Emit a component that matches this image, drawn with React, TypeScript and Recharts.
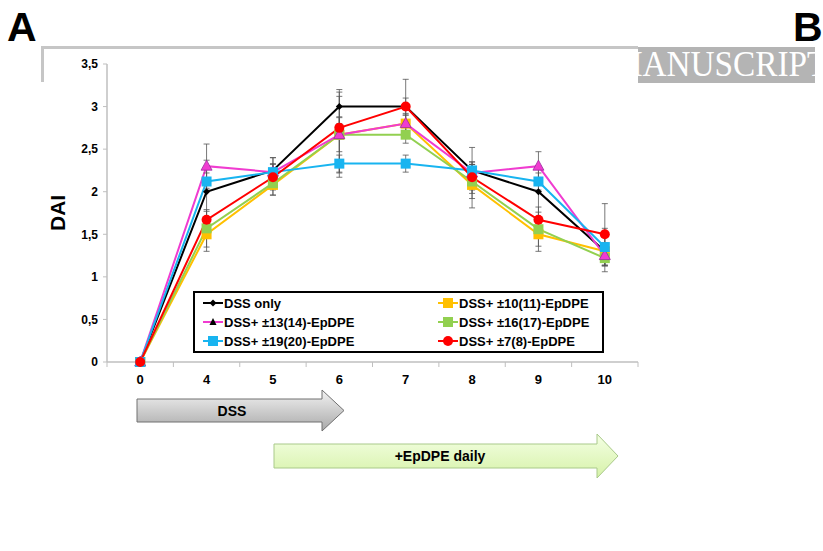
import React from "react";
import {
  LineChart, Line, XAxis, YAxis, ErrorBar,
} from "recharts";

const days = ["0", "4", "5", "6", "7", "8", "9", "10"];
const dssOnly = [0, 2.0, 2.25, 3.0, 3.0, 2.25, 2.0, 1.3];
const dssOnlyErr = [0, 0.37, 0.15, 0.2, 0.1, 0.27, 0.3, 0.1];
const ep1314 = [0, 2.3, 2.23, 2.67, 2.8, 2.22, 2.3, 1.25];
const ep1314Err = [0, 0.26, 0.17, 0.2, 0.1, 0.1, 0.17, 0.12];
const ep1920 = [0, 2.12, 2.23, 2.33, 2.33, 2.25, 2.12, 1.35];
const ep1920Err = [0, 0.1, 0.1, 0.1, 0.1, 0.1, 0.1, 0.22];
const ep1011 = [0, 1.5, 2.08, 2.67, 2.8, 2.08, 1.5, 1.3];
const ep1011Err = [0, 0.2, 0.12, 0.45, 0.12, 0.27, 0.2, 0.17];
const ep1617 = [0, 1.57, 2.1, 2.67, 2.67, 2.12, 1.56, 1.22];
const ep1617Err = [0, 0.22, 0.14, 0.5, 0.1, 0.2, 0.2, 0.16];
const ep78 = [0, 1.67, 2.17, 2.75, 3.0, 2.17, 1.67, 1.5];
const ep78Err = [0, 0.1, 0.15, 0.13, 0.32, 0.15, 0.15, 0.36];
const yTicks = [0, 0.5, 1, 1.5, 2, 2.5, 3, 3.5];

const data = days.map((d, i) => ({
  day: d,
  dss: dssOnly[i], dssErr: dssOnlyErr[i],
  e1314: ep1314[i], e1314Err: ep1314Err[i],
  e1920: ep1920[i], e1920Err: ep1920Err[i],
  e1011: ep1011[i], e1011Err: ep1011Err[i],
  e1617: ep1617[i], e1617Err: ep1617Err[i],
  e78: ep78[i], e78Err: ep78Err[i],
}));

const FONT = "'Liberation Sans', Arial, sans-serif";
const AXIS_GRAY = "#bfbfbf";
const X_TICK_GAP = 13;

type Shape = "diamond" | "triangle" | "square" | "circle";

function marker(shape: Shape, cx: number, cy: number, fill: string, key?: string) {
  if (shape === "diamond") {
    return <path key={key} d={`M${cx},${cy - 3.5}L${cx + 3.5},${cy}L${cx},${cy + 3.5}L${cx - 3.5},${cy}Z`} fill={fill} />;
  }
  if (shape === "triangle") {
    return <path key={key} d={`M${cx},${cy - 6}L${cx + 5.5},${cy + 4}L${cx - 5.5},${cy + 4}Z`} fill={fill} stroke="#9a2aa0" strokeWidth={0.8} />;
  }
  if (shape === "square") {
    return <rect key={key} x={cx - 5} y={cy - 5} width={10} height={10} fill={fill} />;
  }
  return <circle key={key} cx={cx} cy={cy} r={5} fill={fill} />;
}

const dotFor = (shape: Shape, fill: string) => (p: any) =>
  marker(shape, p.cx, p.cy, fill, `${shape}-${fill}-${p.index}`);

// category label plus tick marks on the band edges (Excel style)
function DayTick(props: any) {
  const { x, y, payload, index, visibleTicksCount } = props;
  const half = payload.offset ?? 0;
  const axisY = y - X_TICK_GAP;
  const isLast = index === visibleTicksCount - 1;
  return (
    <g>
      <line x1={x - half} y1={axisY} x2={x - half} y2={axisY + 5} stroke={AXIS_GRAY} />
      {isLast && <line x1={x + half} y1={axisY} x2={x + half} y2={axisY + 5} stroke={AXIS_GRAY} />}
      <text x={x} y={y} dy="0.71em" textAnchor="middle" fontFamily={FONT} fontWeight="bold" fontSize={13} fill="#000">
        {payload.value}
      </text>
    </g>
  );
}

const series = [
  { key: "dss", err: "dssErr", name: "DSS only", color: "#000000", shape: "diamond" as Shape, legendFill: "#000000" },
  { key: "e1011", err: "e1011Err", name: "DSS+ \u00b110(11)-EpDPE", color: "#ffc000", shape: "square" as Shape, legendFill: "#ffc000" },
  { key: "e1617", err: "e1617Err", name: "DSS+ \u00b116(17)-EpDPE", color: "#92d050", shape: "square" as Shape, legendFill: "#92d050" },
  { key: "e1314", err: "e1314Err", name: "DSS+ \u00b113(14)-EpDPE", color: "#f03cd0", shape: "triangle" as Shape, legendFill: "#000000" },
  { key: "e1920", err: "e1920Err", name: "DSS+ \u00b119(20)-EpDPE", color: "#18b4f0", shape: "square" as Shape, legendFill: "#18b4f0" },
  { key: "e78", err: "e78Err", name: "DSS+ \u00b17(8)-EpDPE", color: "#ff0000", shape: "circle" as Shape, legendFill: "#ff0000" },
];

const legendOrder = ["dss", "e1011", "e1314", "e1617", "e1920", "e78"];

function LegendBox() {
  const items = legendOrder.map(k => series.find(s => s.key === k)!);
  return (
    <div style={{
      position: "absolute", left: 193, top: 291,
      width: 411, height: 62, border: "2px solid #000", boxSizing: "border-box",
      display: "grid", gridTemplateColumns: "235px 170px", padding: "1px 0 0 7px",
      fontFamily: FONT, fontWeight: "bold", fontSize: 13, background: "#fff",
    }}>
      {items.map(s => (
        <div key={s.key} style={{ display: "flex", alignItems: "center", height: 18 }}>
          <svg width={22} height={12}>
            <line x1={1} y1={6} x2={21} y2={6} stroke={s.color} strokeWidth={2} />
            {s.shape === "triangle"
              ? <path d="M11,2L14.5,9L7.5,9Z" fill="#000" />
              : marker(s.shape, 11, 6, s.legendFill)}
          </svg>
          <span style={{ color: "#000" }}>{s.name}</span>
        </div>
      ))}
    </div>
  );
}

export default function App() {
  return (
    <div style={{ position: "absolute", left: 0, top: 0, width: 823, height: 551, background: "#fff", overflow: "hidden" }}>
      <div style={{ position: "absolute", left: 7, top: 7, fontFamily: FONT, fontWeight: "bold", fontSize: 41, lineHeight: "41px" }}>A</div>
      <div style={{ position: "absolute", left: 793, top: 7, fontFamily: FONT, fontWeight: "bold", fontSize: 41, lineHeight: "41px" }}>B</div>
      <div style={{ position: "absolute", left: 41, top: 46, width: 597, height: 2.5, background: "#c6c6c6" }} />
      <div style={{ position: "absolute", left: 41, top: 46, width: 2.5, height: 36, background: "#c6c6c6" }} />
      <div style={{ position: "absolute", left: 638, top: 47, width: 177, height: 36, background: "#b4b4b4", overflow: "hidden" }}>
        <div style={{ position: "absolute", left: -25, top: -2, fontFamily: "'Liberation Serif', 'Times New Roman', serif", fontSize: 35, color: "#fff", whiteSpace: "nowrap", transform: "scaleX(0.95)", transformOrigin: "left" }}>MANUSCRIPT</div>
      </div>

      <div style={{ position: "absolute", left: 0, top: 0 }}>
        <LineChart width={823} height={551} data={data} margin={{ top: 64, right: 185, bottom: 159, left: 57 }}>
          <XAxis dataKey="day" scale="band" height={30} tickLine={false} tickSize={0} tickMargin={X_TICK_GAP}
            axisLine={{ stroke: AXIS_GRAY, strokeWidth: 1.5 }} tick={<DayTick />} interval={0} />
          <YAxis domain={[0, 3.5]} ticks={yTicks} width={50} tickSize={4} tickMargin={5}
            axisLine={{ stroke: AXIS_GRAY, strokeWidth: 1.5 }} tickLine={{ stroke: AXIS_GRAY }}
            tickFormatter={(v: number) => String(v).replace(".", ",")}
            tick={{ fontSize: 12, fontWeight: "bold", fill: "#000", fontFamily: FONT }}
            label={{ value: "DAI", angle: -90, position: "insideLeft", dx: -4, dy: 18, style: { fontSize: 21, fontWeight: "bold", fill: "#000", fontFamily: FONT } }} />
          {series.map(s => (
            <Line key={s.key} dataKey={s.key} name={s.name} type="linear" stroke={s.color} strokeWidth={2}
              dot={dotFor(s.shape, s.color)} activeDot={false} isAnimationActive={false}>
              <ErrorBar dataKey={s.err} direction="y" width={3} stroke="#555" strokeWidth={0.8} isAnimationActive={false} />
            </Line>
          ))}
        </LineChart>
      </div>

      <LegendBox />

      <svg width={823} height={551} style={{ position: "absolute", left: 0, top: 0, pointerEvents: "none" }}>
        <defs>
          <linearGradient id="gDss" x1="0" y1="0" x2="0" y2="1">
            <stop offset="0" stopColor="#f2f2f2" />
            <stop offset="1" stopColor="#a9a9a9" />
          </linearGradient>
          <linearGradient id="gEp" x1="0" y1="0" x2="0" y2="1">
            <stop offset="0" stopColor="#f4ffe4" />
            <stop offset="1" stopColor="#d6f2a8" />
          </linearGradient>
        </defs>
        <path d="M137,399 L322,399 L322,390 L344,410.5 L322,431 L322,422 L137,422 Z" fill="url(#gDss)" stroke="#707070" strokeWidth={1} />
        <text x={232} y={416} textAnchor="middle" fontFamily={FONT} fontWeight="bold" fontSize={14}>DSS</text>
        <path d="M274,444 L597,444 L597,434 L618,456 L597,478 L597,468 L274,468 Z" fill="url(#gEp)" stroke="#a9c98a" strokeWidth={1} />
        <text x={440} y={461} textAnchor="middle" fontFamily={FONT} fontWeight="bold" fontSize={14}>+EpDPE  daily</text>
      </svg>
    </div>
  );
}
